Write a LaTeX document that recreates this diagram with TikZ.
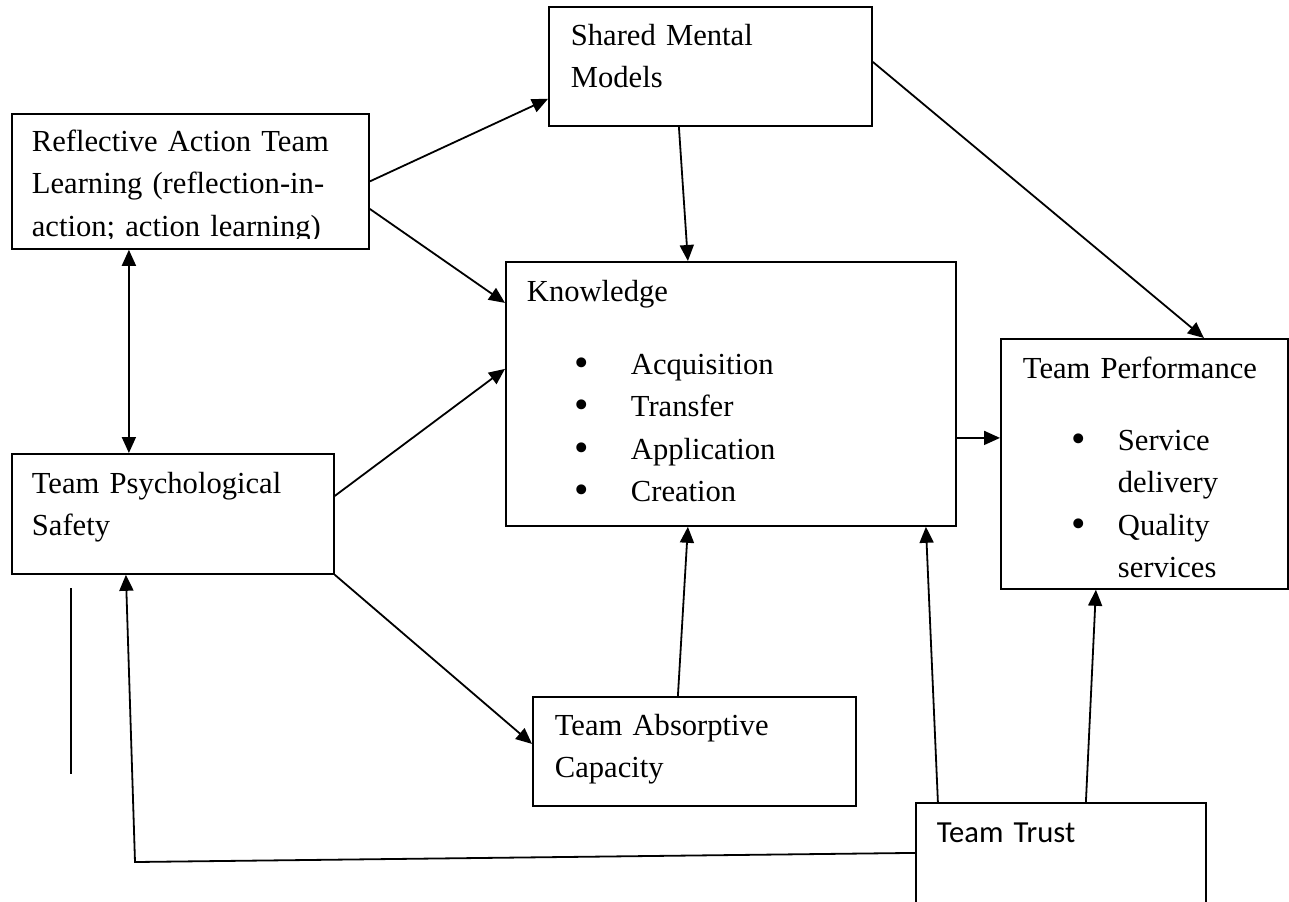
\documentclass[tikz,border=0pt]{standalone}
\usepackage{fontspec}
\setmainfont{Liberation Serif}
\newfontfamily\trustfont{Carlito}
\usetikzlibrary{arrows.meta}
\newcommand{\bul}[1]{\makebox[#1][l]{\raisebox{-1pt}{\scalebox{1.35}{\textbullet}}}}

\begin{document}
\begin{tikzpicture}[x=0.5pt, y=-0.5pt, line width=0.9pt,
            >={Triangle[length=8pt,width=7pt]},
            box/.style={draw, rectangle, anchor=north west, inner sep=0pt},
            txt/.style={anchor=base west, inner sep=0pt, align=left,
              text width=170pt, font=\fontsize{15.3}{21.3}\selectfont}
        ]
          \clip (0,0) rectangle (1289,901);
          % boxes
          \node[box, minimum width=161.5pt, minimum height=59.5pt] (smm) at (548,6) {};
          \node[box, minimum width=178.5pt, minimum height=67.5pt] (ratl) at (11,113) {};
          \node[box, minimum width=225pt, minimum height=132pt] (know) at (505,261) {};
          \node[box, minimum width=143.5pt, minimum height=125pt] (tp) at (1000,338) {};
          \node[box, minimum width=161pt, minimum height=60pt] (tps) at (11,453) {};
          \node[box, minimum width=161.5pt, minimum height=54.5pt] (tac) at (532,696) {};
          \node[box, minimum width=145pt, minimum height=75pt] (tt) at (915,802) {};
          % texts
          \node[txt] (smm-t) at (570,45) {Shared Mental\\Models};
          \begin{scope}
            \clip (11,113) rectangle (368,238);
            \node[txt] (ratl-t) at (31,151) {Reflective Action Team\\Learning (reflection-in-\\action; action learning)};
          \end{scope}
          \node[txt] (know-t) at (526,301) {Knowledge};
          \node[txt] (know-l) at (574,374) {\bul{28pt}Acquisition\\\bul{28pt}Transfer\\\bul{28pt}Application\\\bul{28pt}Creation};
          \node[txt] (tp-t) at (1022,378) {Team Performance};
          \node[txt] (tp-l) at (1071,450) {\bul{23pt}Service\\\hspace*{23pt}delivery\\\bul{23pt}Quality\\\hspace*{23pt}services};
          \node[txt] (tps-t) at (31,493) {Team Psychological\\Safety};
          \node[txt] (tac-t) at (554,735) {Team Absorptive\\Capacity};
          \node[txt, font=\trustfont\fontsize{15.3}{21.3}\selectfont] (tt-t) at (936,842) {Team Trust};
          % connectors
          \path[->]
          (ratl.east) edge ([shift={(0,32.5)}]smm.west)
          ([shift={(0,27.5)}]ratl.east) edge ([shift={(0,-91)}]know.west)
          ([shift={(-31.5,0)}]smm.south) edge ([shift={(-43,0)}]know.north)
          ([shift={(0,-4.5)}]smm.east) edge ([shift={(59.5,0)}]tp.north)
          ([shift={(0,-18)}]tps.east) edge ([shift={(0,-25)}]know.west)
          ([shift={(0,44)}]know.east) edge ([shift={(0,-26)}]tp.west)
          (tps.south east) edge ([shift={(0,-7.5)}]tac.west)
          ([shift={(-16.5,0)}]tac.north) edge ([shift={(-43,0)}]know.south)
          ([shift={(-123,0)}]tt.north) edge ([shift={(195,0)}]know.south)
          ([shift={(25,0)}]tt.north) edge ([shift={(-48.5,0)}]tp.south)
          ;
          \draw[<->] ([shift={(-61.5,0)}]ratl.south) -- ([shift={(-44,0)}]tps.north);
          \coordinate (bend) at (135,862);
          \draw[->] ([shift={(0,-25)}]tt.west) -- (bend) -- ([shift={(-47,0)}]tps.south);
          % loose stroke under the safety box
          \coordinate (stroke-a) at (71,588);
          \coordinate (stroke-b) at (71,774);
          \draw (stroke-a) -- (stroke-b);
        \end{tikzpicture}
\end{document}
